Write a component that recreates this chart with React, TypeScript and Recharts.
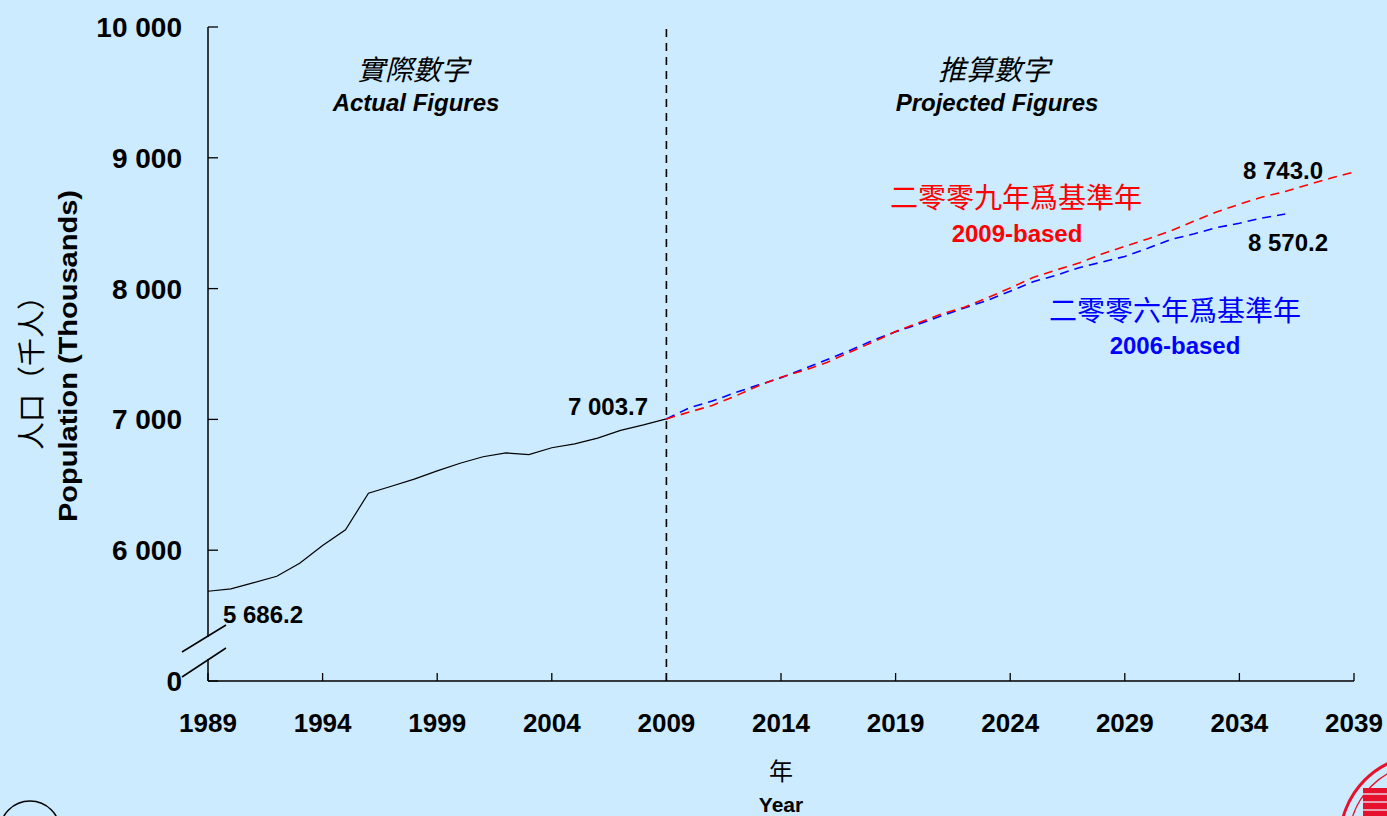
import React from 'react'
import { LineChart, Line, XAxis, YAxis, ReferenceLine } from 'recharts'

// years on the x axis
const years = [
  1989, 1990, 1991, 1992, 1993, 1994, 1995, 1996, 1997, 1998, 1999,
  2000, 2001, 2002, 2003, 2004, 2005, 2006, 2007, 2008, 2009,
  2010, 2011, 2012, 2013, 2014, 2015, 2016, 2017, 2018, 2019,
  2020, 2021, 2022, 2023, 2024, 2025, 2026, 2027, 2028, 2029,
  2030, 2031, 2032, 2033, 2034, 2035, 2036, 2037, 2038, 2039,
]

// actual figures 1989 - 2009 (thousands)
const actualYears = [
  1989, 1990, 1991, 1992, 1993, 1994, 1995, 1996, 1997, 1998, 1999,
  2000, 2001, 2002, 2003, 2004, 2005, 2006, 2007, 2008, 2009,
]
const actualValues = [
  5686.2, 5704.5, 5752.0, 5800.5, 5901.0, 6035.4, 6156.1, 6435.5, 6489.3, 6543.7, 6606.5,
  6665.0, 6714.3, 6744.1, 6730.8, 6783.5, 6813.2, 6857.1, 6916.3, 6957.8, 7003.7,
]

// 2009-based projection, 2009 - 2039
const proj2009Years = [
  2009, 2010, 2011, 2012, 2013, 2014, 2015, 2016, 2017, 2018, 2019,
  2020, 2021, 2022, 2023, 2024, 2025, 2026, 2027, 2028, 2029,
  2030, 2031, 2032, 2033, 2034, 2035, 2036, 2037, 2038, 2039,
]
const proj2009Values = [
  7003.7, 7056, 7107, 7178, 7255, 7323, 7374, 7435, 7514, 7590, 7672,
  7738, 7805, 7858, 7929, 8005, 8085, 8142, 8195, 8265, 8323,
  8380, 8440, 8515, 8585, 8645, 8700, 8743.0, 8795, 8845, 8891.4,
]

// 2006-based projection, 2009 - 2036
const proj2006Years = [
  2009, 2010, 2011, 2012, 2013, 2014, 2015, 2016, 2017, 2018, 2019,
  2020, 2021, 2022, 2023, 2024, 2025, 2026, 2027, 2028, 2029,
  2030, 2031, 2032, 2033, 2034, 2035, 2036,
]
const proj2006Values = [
  7003.7, 7089, 7140, 7204, 7262, 7318, 7387, 7456, 7527, 7603, 7670,
  7728, 7792, 7852, 7910, 7980, 8052, 8102, 8160, 8203, 8246,
  8308, 8375, 8418, 8466, 8500, 8540, 8570.2,
]

const xTicks = [1989, 1994, 1999, 2004, 2009, 2014, 2019, 2024, 2029, 2034, 2039]
const yTicks = [5000, 6000, 7000, 8000, 9000, 10000]

const chartData = years.map(year => {
  const row: { [key: string]: number | undefined } = { year }
  const a = actualYears.indexOf(year)
  if (a >= 0) row.actual = actualValues[a]
  const p9 = proj2009Years.indexOf(year)
  if (p9 >= 0) row.proj2009 = proj2009Values[p9]
  const p6 = proj2006Years.indexOf(year)
  if (p6 >= 0) row.proj2006 = proj2006Values[p6]
  return row
})

const BG = '#CCEBFF'
const LATIN = '"Liberation Sans", Arial, sans-serif'
const CJK = '"Noto Sans CJK TC", "Noto Sans CJK SC", sans-serif'

const fmtThousands = (v: number) => {
  if (v === 5000) return '0' // broken axis, bottom shown as 0
  const s = String(v)
  return s.slice(0, s.length - 3) + ' ' + s.slice(-3)
}

const XTick = (props: any) => {
  const { x, y, payload } = props
  return (
    <g>
      <line x1={x} y1={y} x2={x} y2={y - 8} stroke="#000" strokeWidth={1.3} />
      <text x={x} y={y + 51} textAnchor="middle" fontFamily={LATIN} fontWeight="bold" fontSize={26} fill="#000">
        {payload.value}
      </text>
    </g>
  )
}

const YTick = (props: any) => {
  const { x, y, payload } = props
  return (
    <g>
      <line x1={x} y1={y} x2={x + 10} y2={y} stroke="#000" strokeWidth={1.3} />
      <text x={x - 26} y={y + 10} textAnchor="end" fontFamily={LATIN} fontWeight="bold" fontSize={28} fill="#000">
        {fmtThousands(payload.value)}
      </text>
    </g>
  )
}

const Overlay = () => (
  <svg width={1387} height={816} style={{ position: 'absolute', left: 0, top: 0, pointerEvents: 'none' }}>
    {/* axis break */}
    <rect x={204} y={637} width={8} height={22} fill={BG} />
    <line x1={182} y1={652} x2={226} y2={625} stroke="#000" strokeWidth={1.5} />
    <line x1={182} y1={677} x2={226} y2={648} stroke="#000" strokeWidth={1.5} />

    {/* y axis title */}
    <text transform="translate(30,366) rotate(-90)" textAnchor="middle" dominantBaseline="central"
      fontFamily={CJK} fontSize={28} fill="#000">人口（千人）</text>
    <text transform="translate(68,356) rotate(-90)" textAnchor="middle" dominantBaseline="central"
      fontFamily={LATIN} fontWeight="bold" fontSize={25} fill="#000"
      textLength={332} lengthAdjust="spacingAndGlyphs">Population (Thousands)</text>

    {/* x axis title */}
    <text x={781} y={780} textAnchor="middle" fontFamily={CJK} fontSize={24} fill="#000">年</text>
    <text x={781} y={812} textAnchor="middle" fontFamily={LATIN} fontWeight="bold" fontSize={21} fill="#000">Year</text>

    {/* section headers */}
    <text x={413} y={80} textAnchor="middle" fontFamily={CJK} fontStyle="italic" fontSize={28} fill="#000">實際數字</text>
    <text x={416} y={111} textAnchor="middle" fontFamily={LATIN} fontStyle="italic" fontWeight="bold" fontSize={24} fill="#000">Actual Figures</text>
    <text x={994} y={80} textAnchor="middle" fontFamily={CJK} fontStyle="italic" fontSize={28} fill="#000">推算數字</text>
    <text x={997} y={111} textAnchor="middle" fontFamily={LATIN} fontStyle="italic" fontWeight="bold" fontSize={24} fill="#000">Projected Figures</text>

    {/* series labels */}
    <text x={1016} y={208} textAnchor="middle" fontFamily={CJK} fontSize={28} fill="#FF0000">二零零九年爲基準年</text>
    <text x={1017} y={242} textAnchor="middle" fontFamily={LATIN} fontWeight="bold" fontSize={24} fill="#FF0000">2009-based</text>
    <text x={1175} y={321} textAnchor="middle" fontFamily={CJK} fontSize={28} fill="#0000FF">二零零六年爲基準年</text>
    <text x={1175} y={354} textAnchor="middle" fontFamily={LATIN} fontWeight="bold" fontSize={24} fill="#0000FF">2006-based</text>

    {/* value labels */}
    <text x={568} y={415} fontFamily={LATIN} fontWeight="bold" fontSize={24} fill="#000">7 003.7</text>
    <text x={223} y={623} fontFamily={LATIN} fontWeight="bold" fontSize={24} fill="#000">5 686.2</text>
    <text x={1243} y={179} fontFamily={LATIN} fontWeight="bold" fontSize={24} fill="#000">8 743.0</text>
    <text x={1248} y={251} fontFamily={LATIN} fontWeight="bold" fontSize={24} fill="#000">8 570.2</text>

    {/* page decorations at the bottom corners */}
    <circle cx={30} cy={831} r={30} fill="none" stroke="#000" strokeWidth={1.5} />
    <circle cx={1425} cy={840} r={85} fill="none" stroke="#E8112D" strokeWidth={3} />
    <circle cx={1425} cy={840} r={76} fill="none" stroke="#E8112D" strokeWidth={1.5} />
    <rect x={1363} y={788} width={24} height={28} fill="#E8112D" />
    <line x1={1363} x2={1387} y1={794} y2={794} stroke="#e6d3e0" strokeWidth={1.5} />
    <line x1={1363} x2={1387} y1={802} y2={802} stroke="#e6d3e0" strokeWidth={1.5} />
    <line x1={1363} x2={1387} y1={810} y2={810} stroke="#e6d3e0" strokeWidth={1.5} />
  </svg>
)

const App = () => {
  return (
    <div style={{ position: 'absolute', left: 0, top: 0, width: 1387, height: 816, background: BG, overflow: 'hidden' }}>
      <LineChart
        width={1387}
        height={816}
        data={chartData}
        margin={{ top: 27, right: 33, bottom: 0, left: 0 }}
      >
        <XAxis
          dataKey="year"
          type="number"
          domain={[1989, 2039]}
          ticks={xTicks}
          interval={0}
          height={135}
          tickLine={false}
          tickSize={0}
          tickMargin={0}
          axisLine={{ stroke: '#000', strokeWidth: 1.5 }}
          tick={(p: any) => <XTick {...p} />}
        />
        <YAxis
          type="number"
          domain={[5000, 10000]}
          ticks={yTicks}
          interval={0}
          width={208}
          tickLine={false}
          tickSize={0}
          tickMargin={0}
          axisLine={{ stroke: '#000', strokeWidth: 1.5 }}
          tick={(p: any) => <YTick {...p} />}
        />
        <ReferenceLine x={2009} stroke="#000" strokeWidth={1.6} strokeDasharray="8 6" />
        <Line dataKey="actual" stroke="#000" strokeWidth={1.2} dot={false} isAnimationActive={false} />
        <Line dataKey="proj2006" stroke="#0000FF" strokeWidth={1.6} strokeDasharray="9 6" dot={false} isAnimationActive={false} />
        <Line dataKey="proj2009" stroke="#FF0000" strokeWidth={1.6} strokeDasharray="9 6" dot={false} isAnimationActive={false} />
      </LineChart>
      <Overlay />
    </div>
  )
}

export default App
